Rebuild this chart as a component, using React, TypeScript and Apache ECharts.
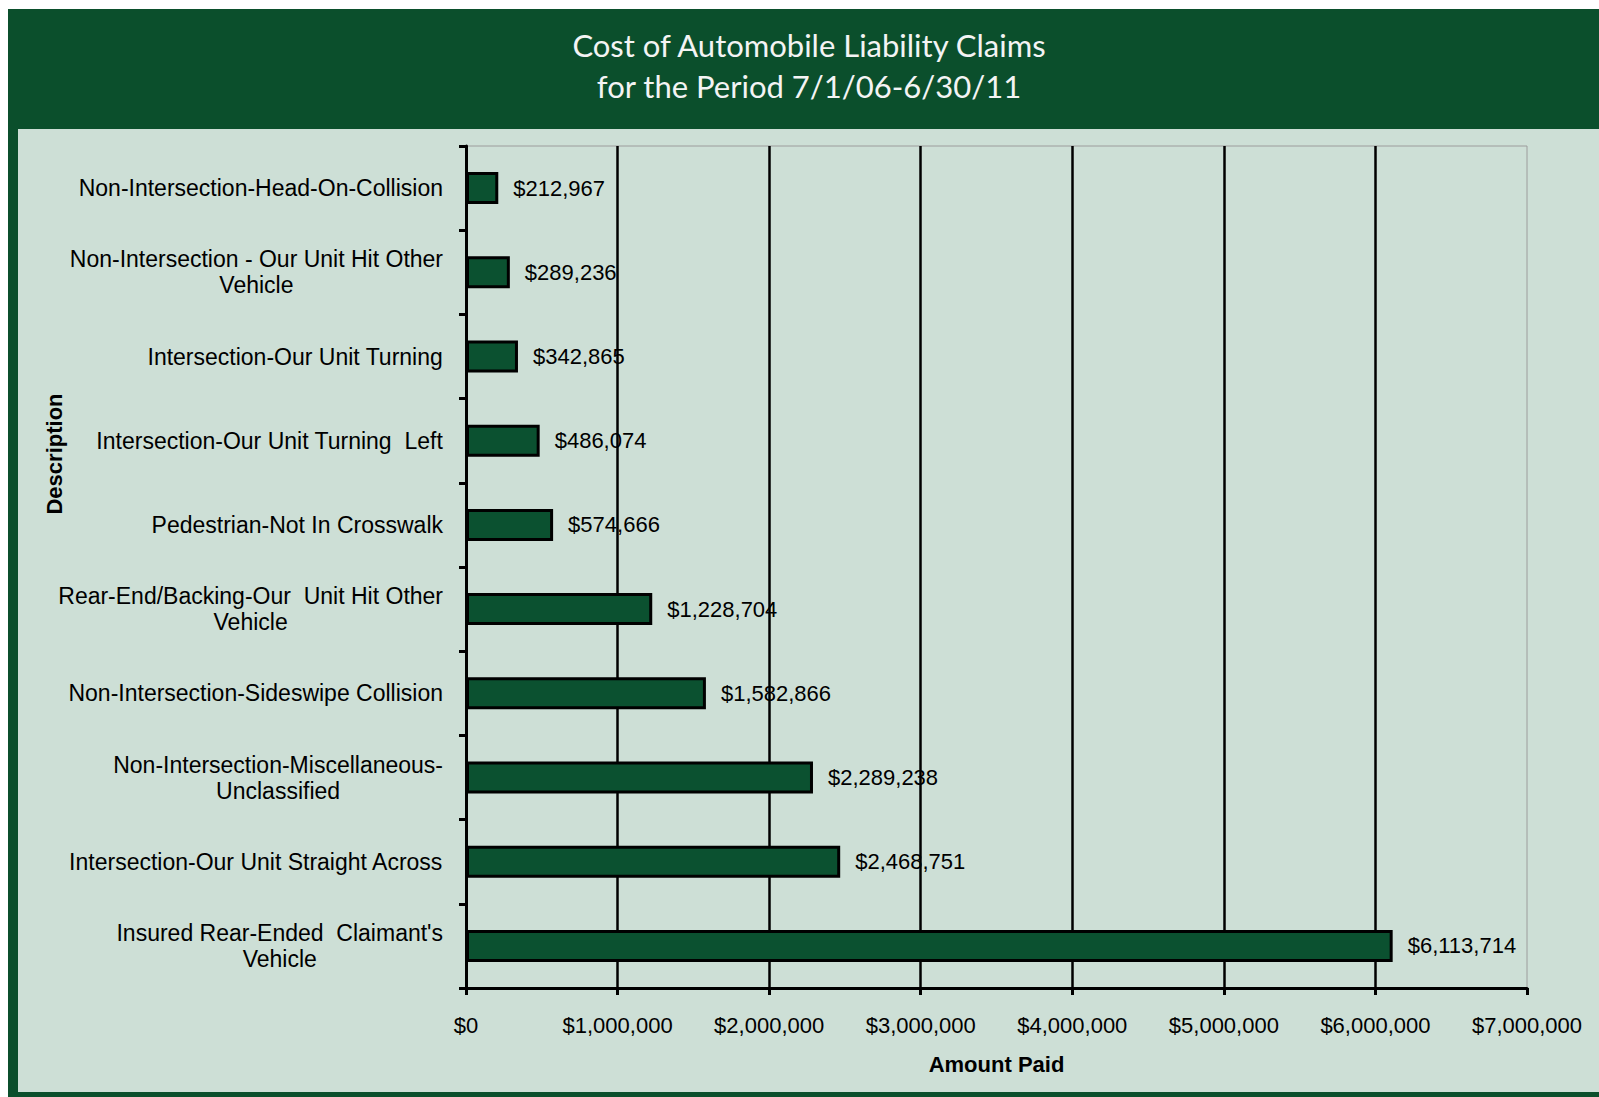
import React, { useEffect, useRef } from "react";
import * as echarts from "echarts";

const categories: string[] = [
  "Non-Intersection-Head-On-Collision",
  "Non-Intersection - Our Unit Hit Other\nVehicle",
  "Intersection-Our Unit Turning",
  "Intersection-Our Unit Turning  Left",
  "Pedestrian-Not In Crosswalk",
  "Rear-End/Backing-Our  Unit Hit Other\nVehicle",
  "Non-Intersection-Sideswipe Collision",
  "Non-Intersection-Miscellaneous-\nUnclassified",
  "Intersection-Our Unit Straight Across",
  "Insured Rear-Ended  Claimant's\nVehicle",
];

const amountPaid: number[] = [
  212967, 289236, 342865, 486074, 574666, 1228704, 1582866, 2289238, 2468751,
  6113714,
];

const xTicks = { min: 0, max: 7000000, interval: 1000000 };

const titleLines: string[] = [
  "Cost of Automobile Liability Claims",
  "for the Period 7/1/06-6/30/11",
];

const FONT = "'Liberation Sans', Arial, sans-serif";
const money = (v: number) => "$" + Math.round(v).toLocaleString("en-US");

export default function App() {
  const ref = useRef<HTMLDivElement>(null);
  useEffect(() => {
    if (!ref.current) return;
    const chart = echarts.init(ref.current, null, { renderer: "svg" });
    chart.setOption({
      animation: false,
      backgroundColor: "#ffffff",
      graphic: [
        {
          type: "rect",
          z: -10,
          shape: { x: 8, y: 9, width: 1591, height: 1088 },
          style: { fill: "#0b4f2c" },
        },
        {
          type: "rect",
          z: -9,
          shape: { x: 18, y: 129, width: 1581, height: 963 },
          style: { fill: "#cddfd6" },
        },
        {
          type: "text",
          x: 809,
          y: 65,
          style: {
            text: titleLines.join("\n"),
            fill: "#f4f4f4",
            font: "normal 31px Lato, 'Open Sans', sans-serif",
            align: "center",
            verticalAlign: "middle",
            lineHeight: 41,
          },
        },
        {
          type: "text",
          x: 54,
          y: 454,
          rotation: Math.PI / 2,
          style: {
            text: "Description",
            fill: "#000",
            font: "bold 22px " + FONT,
            align: "center",
            verticalAlign: "middle",
          },
        },
      ],
      grid: {
        left: 466,
        right: 72,
        top: 146,
        bottom: 109,
        containLabel: false,
        show: true,
        backgroundColor: "transparent",
        borderColor: "#9c9c9c",
        borderWidth: 1,
      },
      xAxis: {
        type: "value",
        min: xTicks.min,
        max: xTicks.max,
        interval: xTicks.interval,
        name: "Amount Paid",
        nameLocation: "middle",
        nameGap: 65,
        nameTextStyle: {
          fontFamily: FONT,
          fontWeight: "bold",
          fontSize: 22,
          color: "#000",
        },
        axisLine: { show: true, lineStyle: { color: "#000", width: 3 } },
        axisTick: { show: true, length: 7, lineStyle: { color: "#000", width: 3 } },
        axisLabel: {
          margin: 26,
          fontFamily: FONT,
          fontSize: 22,
          color: "#000",
          formatter: (v: number) => money(v),
        },
        splitLine: {
          show: true,
          showMaxLine: false,
          lineStyle: { color: "#000", width: 2.5 },
        },
      },
      yAxis: {
        type: "category",
        inverse: true,
        data: categories,
        axisLine: { show: true, lineStyle: { color: "#000", width: 3 } },
        axisTick: {
          show: true,
          length: 7,
          alignWithLabel: false,
          lineStyle: { color: "#000", width: 3 },
        },
        axisLabel: {
          margin: 23,
          fontFamily: FONT,
          fontSize: 23,
          color: "#000",
          formatter: (v: string) =>
            v
              .split("\n")
              .map((s) => `{c|${s}}`)
              .join("\n"),
          rich: {
            c: {
              align: "center",
              fontFamily: FONT,
              fontSize: 23,
              color: "#000",
              lineHeight: 26,
            },
          },
        },
        splitLine: { show: false },
      },
      series: [
        {
          type: "bar",
          data: amountPaid,
          barWidth: 32,
          itemStyle: { color: "#0b5130", borderColor: "#000", borderWidth: 3 },
          label: {
            show: true,
            position: "right",
            distance: 15,
            fontFamily: FONT,
            fontSize: 22,
            color: "#000",
            formatter: (p: any) => money(p.value),
          },
        },
      ],
    });
    return () => chart.dispose();
  }, []);
  return (
    <div
      ref={ref}
      style={{ position: "fixed", left: 0, top: 0, width: 1599, height: 1097 }}
    />
  );
}
